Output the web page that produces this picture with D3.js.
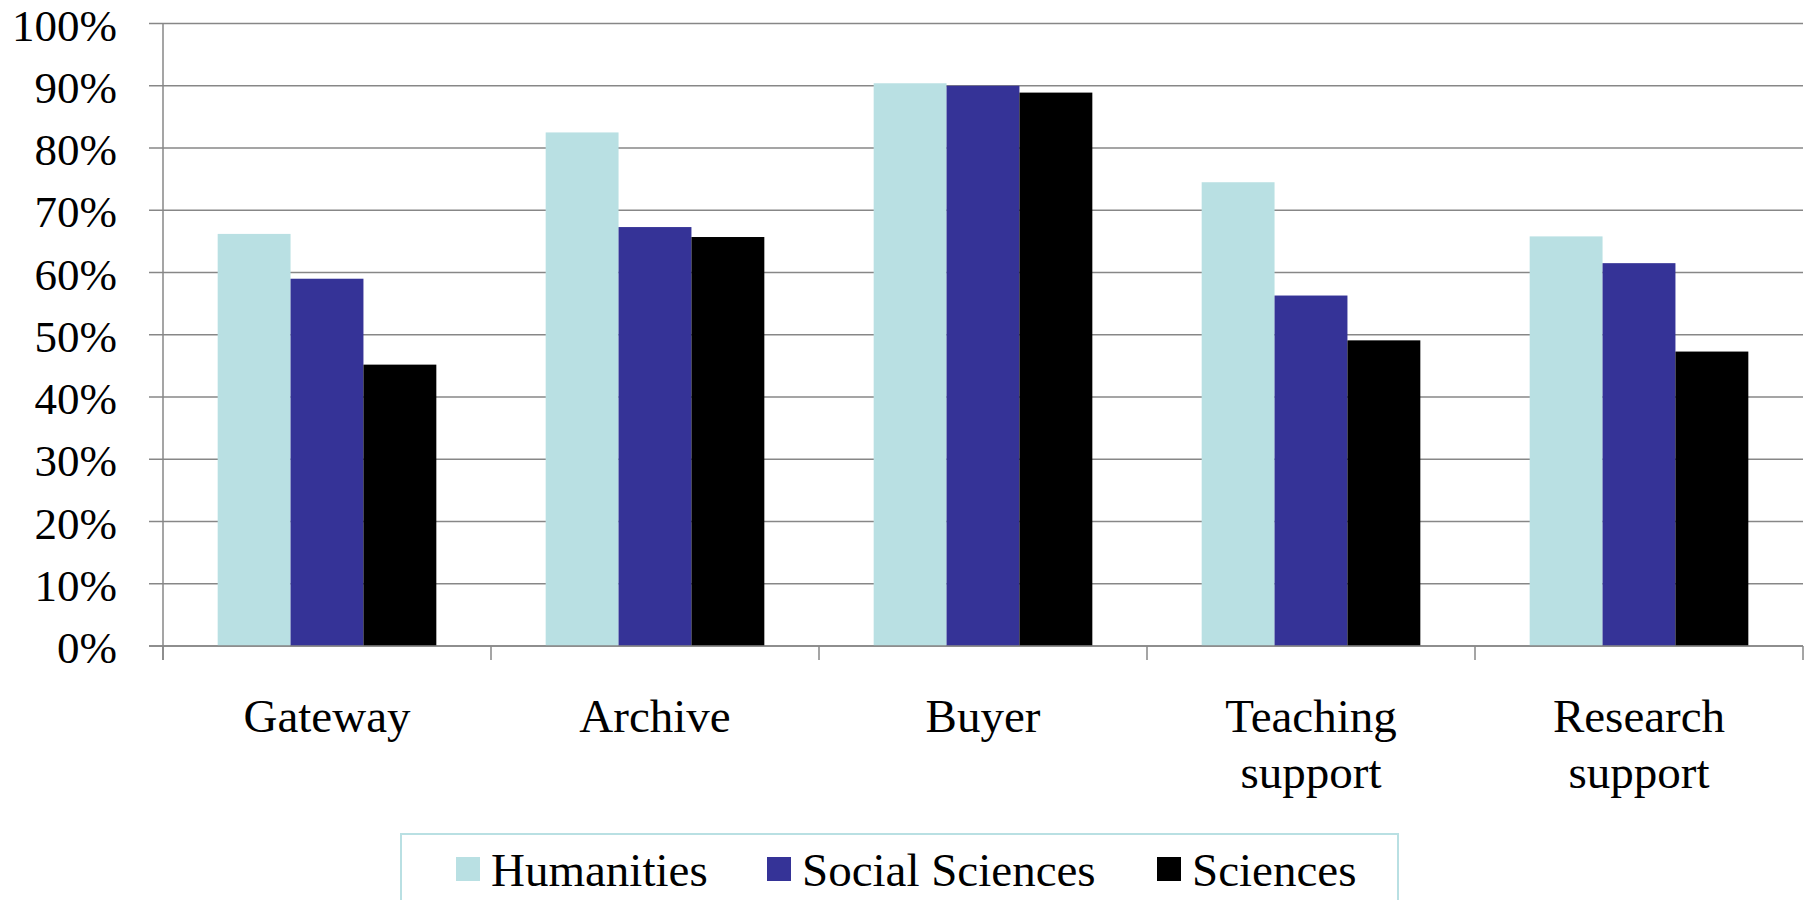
<!DOCTYPE html>
<html>
<head>
<meta charset="utf-8">
<script src="https://cdn.jsdelivr.net/npm/d3@7"></script>
</head>
<body style="margin:0; background:#fff">
<div class="chart"></div>
<script>
const categories = ['Gateway', 'Archive', 'Buyer', 'Teaching support', 'Research support'];
const seriesNames = ['Humanities', 'Social Sciences', 'Sciences'];
const humanities = [66.2, 82.5, 90.4, 74.5, 65.8];
const socialSciences = [59.0, 67.3, 90.0, 56.3, 61.5];
const sciences = [45.2, 65.7, 88.9, 49.1, 47.3];
const yTicks = [0, 10, 20, 30, 40, 50, 60, 70, 80, 90, 100];
const colors = ['#b9e0e3', '#353397', '#000000'];

const seriesValues = [humanities, socialSciences, sciences];
const fontName = 'Liberation Serif';

const dims = { width: 1812, height: 900 };
const plot = { left: 163, right: 1803, top: 23.5, bottom: 646 };

const svg = d3.select('.chart')
  .append('svg')
  .attr('width', dims.width)
  .attr('height', dims.height)
  .attr('font-family', fontName)
  .style('display', 'block');

const x0 = d3.scaleBand()
  .domain(categories)
  .range([plot.left, plot.right])
  .padding(0);

const x1 = d3.scaleBand()
  .domain(seriesNames)
  .range([0, x0.bandwidth()])
  .paddingInner(0)
  .paddingOuter(0.75);

const y = d3.scaleLinear()
  .domain([0, 100])
  .range([plot.bottom, plot.top]);

// horizontal gridlines
svg.append('g')
  .selectAll('line')
  .data(yTicks)
  .enter()
  .append('line')
  .attr('x1', plot.left - 14)
  .attr('x2', plot.right)
  .attr('y1', d => y(d))
  .attr('y2', d => y(d))
  .attr('stroke', '#878787')
  .attr('stroke-width', 1.5);

// y axis labels, drawn by hand from the scale
svg.append('g')
  .selectAll('text')
  .data(yTicks)
  .enter()
  .append('text')
  .attr('x', plot.left - 46)
  .attr('y', d => y(d))
  .attr('dy', '0.38em')
  .attr('text-anchor', 'end')
  .attr('font-family', fontName)
  .style('font-family', `"${fontName}"`)
  .attr('font-size', 45)
  .attr('fill', '#000')
  .text(d => d + '%');

// bars
const groups = svg.append('g')
  .selectAll('g')
  .data(categories)
  .enter()
  .append('g')
  .attr('transform', d => `translate(${x0(d)}, 0)`);

groups.selectAll('rect')
  .data((c, i) => seriesNames.map((s, j) => ({ series: s, value: seriesValues[j][i], idx: j })))
  .enter()
  .append('rect')
  .attr('x', d => x1(d.series))
  .attr('width', x1.bandwidth())
  .attr('y', d => y(d.value))
  .attr('height', d => y(0) - y(d.value))
  .attr('fill', d => colors[d.idx]);

// axis lines
svg.append('line')
  .attr('x1', plot.left).attr('x2', plot.left)
  .attr('y1', y(100)).attr('y2', plot.bottom + 14)
  .attr('stroke', '#878787').attr('stroke-width', 1.5);

svg.append('line')
  .attr('x1', plot.left - 14).attr('x2', plot.right)
  .attr('y1', y(0)).attr('y2', y(0))
  .attr('stroke', '#878787').attr('stroke-width', 1.5);

const catTicks = categories.map(c => x0(c)).concat([x0.range()[1]]);
svg.append('g')
  .selectAll('line')
  .data(catTicks)
  .enter()
  .append('line')
  .attr('x1', d => d).attr('x2', d => d)
  .attr('y1', y(0)).attr('y2', y(0) + 14)
  .attr('stroke', '#878787').attr('stroke-width', 1.5);

// category labels (wrapped onto two lines)
const labels = svg.append('g')
  .selectAll('text')
  .data(categories)
  .enter()
  .append('text')
  .attr('x', d => x0(d) + x0.bandwidth() / 2)
  .attr('y', 732)
  .attr('text-anchor', 'middle')
  .attr('font-family', fontName)
  .style('font-family', `"${fontName}"`)
  .attr('font-size', 47)
  .attr('fill', '#000');

labels.each(function (d) {
  const words = d.split(' ');
  const t = d3.select(this);
  words.forEach((w, i) => {
    t.append('tspan')
      .attr('x', x0(d) + x0.bandwidth() / 2)
      .attr('dy', i === 0 ? 0 : 56)
      .text(w);
  });
});

// legend
const legend = svg.append('g');
legend.append('rect')
  .attr('x', 401)
  .attr('y', 834)
  .attr('width', 997)
  .attr('height', 100)
  .attr('fill', 'none')
  .attr('stroke', '#b9e0e3')
  .attr('stroke-width', 2);

const legendX = [456, 767, 1157];
const items = legend.selectAll('g.item')
  .data(seriesNames)
  .enter()
  .append('g')
  .attr('class', 'item')
  .attr('transform', (d, i) => `translate(${legendX[i]}, 857)`);

items.append('rect')
  .attr('width', 24)
  .attr('height', 24)
  .attr('fill', (d, i) => colors[i]);

items.append('text')
  .attr('x', 35)
  .attr('y', 29)
  .attr('font-family', fontName)
  .style('font-family', `"${fontName}"`)
  .attr('font-size', 47)
  .attr('fill', '#000')
  .text(d => d);
</script>
</body>
</html>
